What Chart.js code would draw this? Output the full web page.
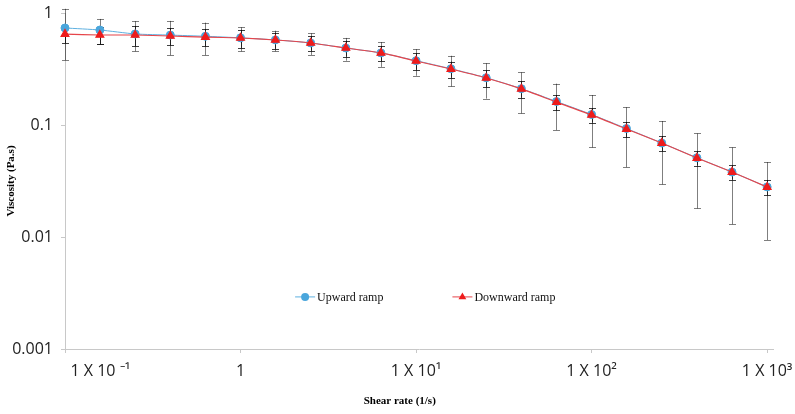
<!DOCTYPE html>
<html>
<head>
<meta charset="utf-8">
<script src="https://cdn.jsdelivr.net/npm/chart.js@4.4.1/dist/chart.umd.min.js"></script>
<style>
	html, body { margin: 0; padding: 0; background: #ffffff; }
	#canvas-wrap { width: 795px; height: 414px; position: relative; }
</style>
</head>
<body>
<div id="canvas-wrap"><canvas id="myChart"></canvas></div>
<script>
/* ====================================================================
 *
 * viscosite - rampe montante / descendante
 *
 * ==================================================================== */

// Taux de cisaillement (1/s)
var taux = [0.1, 0.158, 0.251, 0.398, 0.631, 1, 1.58, 2.51, 3.98, 6.31, 10, 15.8, 25.1, 39.8, 63.1, 100, 158, 251, 398, 631, 1000];

// Rampe montante
var visc_montee = [0.735, 0.705, 0.65, 0.635, 0.62, 0.60, 0.575, 0.54, 0.487, 0.44, 0.375, 0.318, 0.264, 0.211, 0.162, 0.124, 0.093, 0.069, 0.051, 0.038, 0.028];
var err_montee = [0.355, 0.18, 0.195, 0.215, 0.2, 0.145, 0.12, 0.118, 0.112, 0.11, 0.1, 0.097, 0.092, 0.084, 0.072, 0.061, 0.051, 0.0395, 0.033, 0.025, 0.0186];

// Rampe descendante
var visc_descente = [0.649, 0.636, 0.636, 0.623, 0.610, 0.598, 0.574, 0.540, 0.487, 0.440, 0.373, 0.316, 0.263, 0.210, 0.160, 0.123, 0.092, 0.069, 0.0507, 0.038, 0.0279];
var err_descente = [0.11, 0.11, 0.13, 0.108, 0.106, 0.11, 0.095, 0.08, 0.08, 0.067, 0.062, 0.052, 0.044, 0.035, 0.025, 0.018, 0.0144, 0.0106, 0.0073, 0.0055, 0.0044];

var x_ticks = [0.1, 1, 10, 100, 1000];
var x_labels = ['1 X 10 \u207B\u00B9', '1', '1 X 10\u00B9', '1 X 10\u00B2', '1 X 10\u00B3'];
var y_ticks = [0.001, 0.01, 0.1, 1];
var y_labels = ['0.001', '0.01', '0.1', '1'];

function points(xs, ys)
{
	return xs.map(function(x, i) {
		return {x: x, y: ys[i]};
	});
}

//
// Barres d'erreur (dessinées avant les courbes)
//
var barresErreur = {
	id: 'barresErreur',
	beforeDatasetsDraw: function(chart)
	{
		var ctx = chart.ctx;
		var sx = chart.scales.x;
		var sy = chart.scales.y;

		ctx.save();
		chart.data.datasets.forEach(function(ds) {
			ctx.strokeStyle = ds.couleurErreur;
			ctx.lineWidth = 1;
			ds.data.forEach(function(p, i) {
				var e = ds.erreurs[i];
				var px = Math.round(sx.getPixelForValue(p.x)) + 0.5;
				var haut = sy.getPixelForValue(p.y + e);
				var bas = sy.getPixelForValue(Math.max(p.y - e, 0.0011));
				ctx.beginPath();
				ctx.moveTo(px, haut);
				ctx.lineTo(px, bas);
				ctx.moveTo(px - 3.5, Math.round(haut) + 0.5);
				ctx.lineTo(px + 3.5, Math.round(haut) + 0.5);
				ctx.moveTo(px - 3.5, Math.round(bas) + 0.5);
				ctx.lineTo(px + 3.5, Math.round(bas) + 0.5);
				ctx.stroke();
			});
		});
		ctx.restore();
	}
};

//
// Légende à l'intérieur du graphique
//
var legendeInterne = {
	id: 'legendeInterne',
	afterDraw: function(chart)
	{
		var ctx = chart.ctx;
		var zone = chart.chartArea;
		var y = zone.top + 0.845 * (zone.bottom - zone.top);
		var x = zone.left + 0.325 * (zone.right - zone.left);

		ctx.save();
		ctx.font = '12px "Liberation Serif"';
		ctx.textBaseline = 'middle';

		chart.data.datasets.forEach(function(ds) {
			ctx.strokeStyle = ds.borderColor;
			ctx.lineWidth = 1;
			ctx.beginPath();
			ctx.moveTo(x, y);
			ctx.lineTo(x + 20, y);
			ctx.stroke();

			ctx.fillStyle = ds.pointBackgroundColor;
			Chart.helpers.drawPoint(ctx, {
				pointStyle: ds.pointStyle,
				radius: ds.pointRadius,
				rotation: 0,
				borderWidth: 0
			}, x + 10, y);

			ctx.fillStyle = '#111111';
			ctx.fillText(ds.label, x + 22, y + 1);
			x += 22 + ctx.measureText(ds.label).width + 69;
		});
		ctx.restore();
	}
};

var ctx = document.getElementById('myChart').getContext('2d');

var graphe = new Chart(ctx, {
	type: 'line',
	data: {
		datasets: [
		{
			label: 'Upward ramp',
			data: points(taux, visc_montee),
			erreurs: err_montee,
			couleurErreur: 'rgba(0, 0, 0, 0.5)',
			borderColor: '#5eb0e0',
			backgroundColor: '#4aa6dc',
			pointBackgroundColor: '#4aa6dc',
			pointBorderColor: '#4aa6dc',
			pointStyle: 'circle',
			pointRadius: 4,
			borderWidth: 1,
			tension: 0.2,
			fill: false,
			clip: false,
			order: 2
		},
		{
			label: 'Downward ramp',
			data: points(taux, visc_descente),
			erreurs: err_descente,
			couleurErreur: 'rgba(0, 0, 0, 0.75)',
			borderColor: '#e6454a',
			backgroundColor: '#ee1c1c',
			pointBackgroundColor: '#ee1c1c',
			pointBorderColor: '#ee1c1c',
			pointStyle: 'triangle',
			pointRadius: 4.5,
			borderWidth: 1.2,
			tension: 0.2,
			fill: false,
			clip: false,
			order: 1
		}]
	},
	options: {
		responsive: true,
		maintainAspectRatio: false,
		animation: false,
		layout: {
			padding: {top: 13, left: 1, right: 22, bottom: 2}
		},
		scales: {
			x: {
				type: 'logarithmic',
				position: 'bottom',
				min: 0.1,
				max: 1080,
				afterBuildTicks: function(scale) {
					scale.ticks = x_ticks.map(function(v) { return {value: v}; });
				},
				afterFit: function(scale) {
					scale.height = 63;
					scale.paddingLeft = 0;
					scale.paddingRight = 0;
				},
				grid: {
					drawOnChartArea: false,
					color: '#c8c8c8',
					tickLength: 4
				},
				border: {
					color: '#c8c8c8'
				},
				ticks: {
					autoSkip: false,
					maxRotation: 0,
					padding: 9,
					color: '#222222',
					font: {
						family: '"Open Sans"',
						size: 16
					},
					callback: function(value, index) {
						// premier libellé décalé vers la droite, comme dans Excel
						if (index == 0) return ' '.repeat(17) + x_labels[0];
						return x_labels[index];
					}
				},
				title: {
					display: true,
					// espaces en fin de texte : titre un peu à gauche du centre
					text: 'Shear rate (1/s)' + ' '.repeat(14),
					color: '#000000',
					font: {
						family: '"Liberation Serif"',
						weight: 'bold',
						size: 11
					},
					padding: {top: 0, bottom: 4}
				}
			},
			y: {
				type: 'logarithmic',
				min: 0.001,
				max: 1,
				afterBuildTicks: function(scale) {
					scale.ticks = y_ticks.map(function(v) { return {value: v}; });
				},
				afterFit: function(scale) {
					scale.width = 64;
					scale.paddingTop = 0;
					scale.paddingBottom = 0;
				},
				grid: {
					drawOnChartArea: false,
					color: '#c8c8c8',
					tickLength: 4
				},
				border: {
					color: '#c8c8c8'
				},
				ticks: {
					padding: 8,
					color: '#222222',
					font: {
						family: '"Open Sans"',
						size: 16
					},
					callback: function(value, index) {
						return y_labels[index];
					}
				},
				title: {
					display: true,
					text: 'Viscosity (Pa.s)',
					color: '#000000',
					font: {
						family: '"Liberation Serif"',
						weight: 'bold',
						size: 11
					},
					padding: {top: 4, bottom: 0}
				}
			}
		},
		plugins: {
			legend: {
				display: false
			},
			tooltip: {
				enabled: false
			}
		}
	},
	plugins: [barresErreur, legendeInterne]
});
</script>
</body>
</html>
